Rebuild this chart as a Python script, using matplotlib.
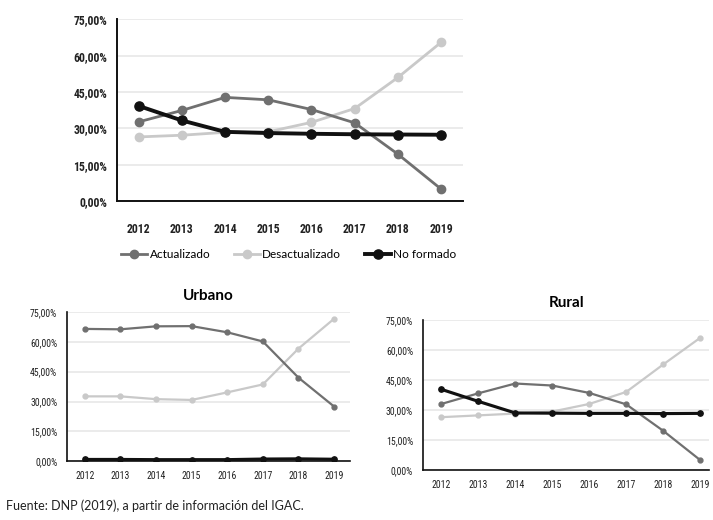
import matplotlib.pyplot as plt
from matplotlib import font_manager

years = ["2012", "2013", "2014", "2015", "2016", "2017", "2018", "2019"]
y_ticks = [0, 15, 30, 45, 60, 75]

# Total
total_actualizado = [32.7, 37.4, 42.8, 41.8, 37.8, 32.3, 19.4, 5.0]
total_desactualizado = [26.5, 27.2, 28.4, 28.6, 32.5, 38.2, 51.0, 65.5]
total_no_formado = [39.3, 33.3, 28.6, 28.1, 27.8, 27.6, 27.5, 27.4]

# Urbano
urb_actualizado = [66.5, 66.3, 67.8, 67.9, 64.8, 60.2, 42.0, 27.5]
urb_desactualizado = [32.6, 32.6, 31.2, 30.8, 34.6, 38.6, 56.6, 71.6]
urb_no_formado = [0.9, 0.9, 0.8, 0.8, 0.8, 1.1, 1.2, 1.0]

# Rural
rur_actualizado = [33.0, 38.3, 43.2, 42.2, 38.5, 32.8, 19.6, 5.0]
rur_desactualizado = [26.4, 27.3, 28.2, 29.2, 33.0, 39.0, 52.7, 66.0]
rur_no_formado = [40.3, 34.3, 28.5, 28.4, 28.3, 28.3, 28.2, 28.3]

SERIES = ["Actualizado", "Desactualizado", "No formado"]
C_ACT = "#707070"
C_DES = "#c9c9c9"
C_NOF = "#111111"

installed = {f.name for f in font_manager.fontManager.ttflist}


def first_font(*names):
    for n in names:
        if n in installed:
            return n
    return "DejaVu Sans"


NARROW = first_font("Liberation Sans Narrow", "DejaVu Sans Condensed",
                    "Roboto Condensed", "Lato")
plt.rcParams["font.family"] = ["Lato", "DejaVu Sans"]


def pct(v):
    return f"{v:.2f}%".replace(".", ",")


def draw(ax, act, des, nof, tick_size, weight, lw, ms, xmax, spine_w):
    x = list(range(len(years)))
    ax.plot(x, des, color=C_DES, lw=lw, marker="o", ms=ms, label=SERIES[1], zorder=3)
    ax.plot(x, act, color=C_ACT, lw=lw, marker="o", ms=ms, label=SERIES[0], zorder=4)
    ax.plot(x, nof, color=C_NOF, lw=lw * 1.4, marker="o", ms=ms * 1.1, label=SERIES[2], zorder=5)
    ax.set_ylim(0, 75)
    ax.set_xlim(-0.5, xmax)
    ax.set_yticks(y_ticks)
    ax.set_yticklabels([pct(v) for v in y_ticks], fontfamily=NARROW,
                       fontweight=weight, fontsize=tick_size, color="#222222")
    ax.set_xticks(x)
    ax.set_xticklabels(years, fontfamily=NARROW, fontweight=weight,
                       fontsize=tick_size, color="#222222")
    ax.tick_params(length=0, pad=7)
    ax.grid(axis="y", color="#e8e8e8", lw=1.2)
    ax.set_axisbelow(True)
    for s in ("top", "right"):
        ax.spines[s].set_visible(False)
    for s in ("left", "bottom"):
        ax.spines[s].set_linewidth(spine_w)
        ax.spines[s].set_color("#111111")


fig = plt.figure(figsize=(7.13, 5.2), dpi=100)

ax_top = fig.add_axes([0.164, 0.613, 0.485, 0.35])
draw(ax_top, total_actualizado, total_desactualizado, total_no_formado,
     8.5, "bold", 2.0, 6, 7.5, 1.4)
ax_top.tick_params(axis="x", pad=16)

h, l = ax_top.get_legend_handles_labels()
order = [l.index(s) for s in SERIES]
fig.legend([h[i] for i in order], [l[i] for i in order], loc="center",
           bbox_to_anchor=(0.405, 0.51), ncol=3, frameon=False, fontsize=8.5,
           handlelength=2.2, handletextpad=0.2, columnspacing=2.0)

ax_urb = fig.add_axes([0.094, 0.113, 0.397, 0.287])
draw(ax_urb, urb_actualizado, urb_desactualizado, urb_no_formado,
     7, "normal", 1.6, 3.5, 7.45, 1.2)
ax_urb.set_title("Urbano", fontsize=11, fontweight="bold", pad=9)

ax_rur = fig.add_axes([0.593, 0.096, 0.402, 0.289])
draw(ax_rur, rur_actualizado, rur_desactualizado, rur_no_formado,
     7, "normal", 1.6, 3.5, 7.25, 1.2)
ax_rur.set_title("Rural", fontsize=11, fontweight="bold", pad=9)

fig.text(0.008, 0.028, "Fuente: DNP (2019), a partir de información del IGAC.",
         fontsize=9, color="#222222", ha="left", va="center")

fig.savefig("out.png", dpi=100, facecolor="white")
